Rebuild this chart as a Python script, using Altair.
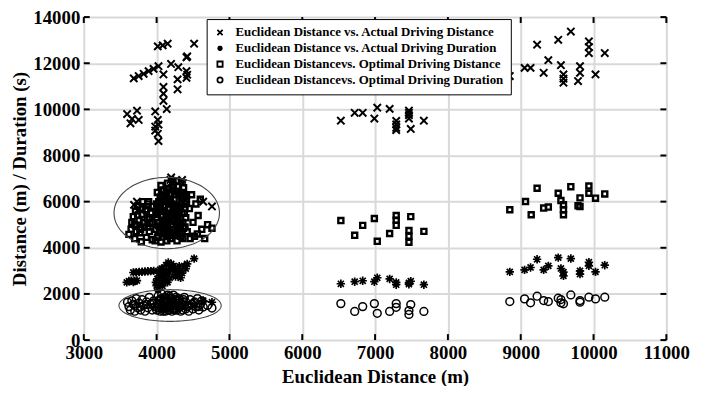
import altair as alt
import pandas as pd
import numpy as np

# ---------------- data ----------------
series_names = [
    "Euclidean Distance vs. Actual Driving Distance",
    "Euclidean Distance vs. Actual Driving Duration",
    "Euclidean Distancevs. Optimal Driving Distance",
    "Euclidean Distancevs. Optimal Driving Duration",
]

# Actual driving distance (x markers)
act_dist_x = [4016, 4084, 4152, 4515, 4410, 3686, 3754, 3822, 3890, 3958, 4026, 4094, 4198, 4298,
              4410, 4410, 4288, 4288, 4094, 4094, 4094, 4139, 3595, 3663, 3731, 3754, 3641, 3981,
              4016, 3981, 3981, 4016, 4026, 4026, 4420, 4420,
              3690, 3730, 3760, 4190, 4350, 4640, 4760, 4200, 4360,
              6530, 6720, 6830, 7030, 6990, 7200, 7290, 7290, 7290, 7290, 7465, 7465, 7465, 7465, 7490, 7670,
              8850, 9053, 9135, 9225, 9315, 9379, 9515, 9552, 9587, 9587, 9587, 9688, 9814, 9814, 9787,
              9936, 9936, 9936, 10027, 10154]
act_dist_y = [12730, 12773, 12845, 12845, 12258, 11343, 11442, 11541, 11657, 11755, 11871, 11515, 11970, 11828,
              11657, 11369, 11300, 10871, 10970, 10682, 10369, 10013, 9798, 9584, 9940, 9541, 9395, 9910,
              9541, 9253, 9082, 8940, 8622, 9339, 12300, 11500,
              5860, 6000, 5700, 6940, 6940, 6000, 5790, 7050, 6800,
              9510, 9850, 9850, 10070, 9600, 10020, 9500, 9350, 9200, 9100, 9950, 9850, 9750, 9600, 9150, 9510,
              11442, 11798, 11798, 12803, 11584, 12129, 13017, 11914, 11515, 11330, 11154, 13373, 11871, 11584, 11227,
              12944, 12700, 12442, 11515, 12442]

# Actual driving duration (asterisks)
act_dur_x = [3590, 3620, 3650, 3680, 3700, 3730,
             3680, 3720, 3760, 3800, 3840, 3880, 3920, 3960,
             3990, 4000, 4010, 4020, 4040, 4060, 4070, 4080, 4100, 4120, 4130, 4150, 4160, 4180, 4190, 4200,
             4230, 4250, 4280, 4300, 4330, 4350, 4380, 4400, 4420, 4515, 4640, 4760,
             4050, 4110, 4170, 4220, 4260, 4310, 4030, 4090, 4140,
             6530, 6720, 6830, 6990, 7030, 7200, 7290, 7290, 7465, 7465, 7490, 7670,
             8850, 9053, 9135, 9225, 9315, 9379, 9515, 9552, 9587, 9587, 9688, 9814, 9814, 9936, 9936, 10027, 10154]
act_dur_y = [2500, 2560, 2570, 2520, 2560, 2580,
             2930, 2940, 2950, 2960, 2970, 2980, 2990, 3000,
             2500, 2360, 2650, 2200, 2450, 2800, 3100, 2350, 2600, 2950, 3250, 2500, 3360, 2700, 3100, 3300,
             3210, 3000, 2850, 3000, 2700, 2900, 3210, 3100, 3300, 3530, 1710, 1640,
             3050, 2800, 2950, 3150, 2750, 3200, 2900, 3000, 2650,
             2440, 2530, 2570, 2530, 2700, 2650, 2400, 2500, 2480, 2420, 2550, 2400,
             2957, 3043, 3146, 3502, 3043, 3215, 3575, 3103, 2944, 2785, 3532, 3000, 2858, 3373, 3215, 2957, 3245]

# Optimal driving distance (squares)
opt_dist_x = [3620, 3650, 3660, 3680, 3700, 3710, 3720, 3740, 3760, 3770, 3790, 3800, 3810, 3830, 3850,
              3860, 3870, 3880, 3890, 3900, 3910, 3920, 3940, 3950,
              3980, 3990, 4000, 4000, 4010, 4020, 4030, 4040, 4050, 4060, 4060, 4070, 4080, 4090, 4100,
              4100, 4110, 4120, 4130, 4140, 4150, 4150, 4160, 4170, 4180, 4190, 4200, 4200, 4210, 4220,
              4230, 4240, 4250, 4260, 4270, 4280, 4290, 4300, 4310, 4320, 4330, 4340, 4350, 4360, 4370,
              4380, 4390, 4400, 4410, 4420,
              4020, 4060, 4100, 4140, 4180, 4220, 4260, 4300, 4340, 4380, 4040, 4080, 4120, 4160, 4200,
              4240, 4280, 4320, 4360, 4400, 4030, 4110, 4190, 4270, 4350, 4070, 4150, 4230, 4310, 4390,
              4010, 4050, 4090, 4130, 4170, 4210, 4250, 4290, 4330, 4370, 4010, 4050, 4090, 4130, 4170,
              4210, 4250, 4290, 4330, 4370, 4025, 4075, 4125, 4175, 4225, 4275, 4325, 4375, 4125, 4225,
              3700, 3740, 3780, 3820, 3860, 3900, 3940, 3720, 3800, 3880,
              4450, 4460, 4480, 4500, 4520, 4540, 4560, 4570, 4600, 4620, 4660, 4700, 4760,
              6530, 6720, 6830, 6990, 7030, 7200, 7290, 7290, 7290, 7490, 7465, 7465, 7465, 7670,
              8850, 9066, 9144, 9225, 9315, 9379, 9515, 9552, 9587, 9587, 9587, 9688, 9814, 9814, 9787,
              9936, 9936, 10027, 10154]
opt_dist_y = [4580, 4800, 5100, 5350, 4400, 5600, 4950, 5800, 5200, 4650, 4260, 5450, 6000, 4900, 5650,
              4450, 5250, 5900, 6000, 4700, 5050, 5500, 4350, 5800,
              4300, 4800, 5300, 5900, 6400, 4500, 5100, 5600, 6200, 4250, 6700, 4900, 5400, 5800, 6500,
              4600, 5000, 6000, 5500, 4300, 6800, 5200, 4700, 5700, 6300, 4400, 5900, 5000, 6600, 4550,
              5400, 6100, 4800, 5600, 6900, 4300, 5200, 6400, 5800, 4600, 5000, 6200, 5500, 4400, 6600,
              5900, 4900, 5300, 6000, 4700,
              5700, 6100, 5600, 6400, 5300, 5000, 6300, 5600, 5900, 5500, 4700, 5200, 4900, 6100, 5400,
              5800, 5100, 5300, 5100, 6300, 6000, 5800, 6000, 4600, 6400, 6500, 4500, 6700, 4900, 5700,
              4450, 4650, 4750, 4850, 4550, 4650, 4550, 4750, 4500, 4850, 5450, 5750, 6050, 6250, 6550,
              5450, 5150, 6650, 5700, 6150, 4950, 5350, 5150, 5350, 5750, 6450, 6350, 6250, 6100, 6850,
              5000, 5400, 4800, 5100, 5600, 5300, 5100, 4700, 5700, 4900,
              5700, 4400, 6300, 5100, 4500, 5900, 4600, 5400, 6100, 4800, 4400, 5000, 4850,
              5180, 4540, 4970, 5270, 4280, 4620, 5400, 5200, 4970, 5350, 4750, 4500, 4240, 4710,
              5648, 6004, 5433, 6579, 5721, 5764, 6365, 6047, 5863, 5650, 5433, 6648, 6163, 5790, 5820,
              6678, 6365, 6150, 6335]

# Optimal driving duration (circles)
opt_dur_x = [3600, 3620, 3640, 3660, 3680, 3700, 3720, 3740, 3760, 3780, 3800, 3820, 3840, 3860, 3880,
             3900, 3920, 3940, 3960, 3980,
             4000, 4010, 4020, 4030, 4040, 4050, 4060, 4070, 4080, 4090, 4100, 4110, 4120, 4130, 4140,
             4150, 4160, 4170, 4180, 4190, 4200, 4210, 4220, 4230, 4240, 4250, 4260, 4270, 4280, 4290,
             4300, 4320, 4340, 4360, 4380, 4400, 4420, 4440, 4460, 4480, 4500, 4520, 4540, 4560, 4580,
             4600, 4640, 4700, 4760, 4620,
             4020, 4060, 4100, 4140, 4180, 4220, 4260, 4300, 4340, 4380, 4040, 4080, 4120, 4160, 4200,
             4240, 4280, 4320, 4360, 4400,
             4010, 4050, 4090, 4130, 4170, 4210, 4250, 4290, 4330, 4370, 4030, 4110, 4190, 4270, 4350,
             3700, 3780, 3860, 3940, 4450, 4510, 4570,
             6530, 6720, 6830, 6990, 7030, 7200, 7290, 7290, 7490, 7465, 7465, 7670,
             8850, 9053, 9135, 9225, 9315, 9379, 9515, 9552, 9552, 9587, 9688, 9814, 9814, 9936, 10027, 10154]
opt_dur_y = [1640, 1450, 1300, 1700, 1550, 1250, 1800, 1400, 1600, 1300, 1750, 1500, 1250, 1650, 1400,
             1850, 1550, 1300, 1700, 1450,
             1300, 1600, 1900, 1400, 1750, 1250, 1550, 2000, 1350, 1700, 1500, 1850, 1250, 1600, 1400,
             1950, 1700, 1300, 1550, 1800, 1450, 1250, 1650, 1950, 1350, 1750, 1500, 1850, 1300, 1600,
             1400, 1750, 1550, 1300, 1850, 1650, 1450, 1250, 1750, 1550, 1350, 1650, 1450, 1800, 1300,
             1550, 1430, 1500, 1390, 1700,
             1500, 1800, 1400, 1650, 1900, 1350, 1600, 1800, 1550, 1500, 1700, 1450, 1750, 1300, 1650,
             1550, 1700, 1450, 1650, 1350,
             1400, 1700, 1250, 1850, 1450, 1600, 1300, 1700, 1250, 1750, 1550, 1350, 1650, 1400, 1500,
             1500, 1450, 1550, 1600, 1500, 1600, 1450,
             1580, 1240, 1450, 1580, 1160, 1240, 1580, 1420, 1540, 1280, 1110, 1240,
             1670, 1785, 1614, 1900, 1712, 1670, 1815, 1756, 1614, 1571, 1957, 1712, 1643, 1858, 1785, 1858]

# ellipse annotations: centre x, centre y, radius x, radius y
ellipse_cx = [4139, 4185]
ellipse_cy = [5506, 1498]
ellipse_rx = [724, 702]
ellipse_ry = [1545, 687]

x_ticks = [3000, 4000, 5000, 6000, 7000, 8000, 9000, 10000, 11000]
y_ticks = [0, 2000, 4000, 6000, 8000, 10000, 12000, 14000]

# ---------------- tables ----------------
series_x = [act_dist_x, act_dur_x, opt_dist_x, opt_dur_x]
series_y = [act_dist_y, act_dur_y, opt_dist_y, opt_dur_y]

theta = np.linspace(0, 2 * np.pi, 121)
ell_rows = []
for k in range(len(ellipse_cx)):
    for i, t in enumerate(theta):
        ell_rows.append({"id": k, "i": i,
                         "x": ellipse_cx[k] + ellipse_rx[k] * np.cos(t),
                         "y": ellipse_cy[k] + ellipse_ry[k] * np.sin(t)})
ell = pd.DataFrame(ell_rows)

W, H = 588, 326
FONT = "Liberation Serif"

xscale = alt.Scale(domain=[3000, 11000], nice=False, zero=False)
yscale = alt.Scale(domain=[0, 14000], nice=False, zero=False)

xaxis = alt.Axis(values=x_ticks, format="d", title="Euclidean Distance (m)", grid=True,
                 gridColor="#d9d9d9", gridWidth=2, domain=False, ticks=False,
                 labelFont=FONT, labelFontWeight="bold", labelFontSize=19, labelColor="black",
                 labelPadding=4, titleFont=FONT, titleFontWeight="bold", titleFontSize=19,
                 titleColor="black", titlePadding=5, labelFlush=False)
yaxis = alt.Axis(values=y_ticks, format="d", title="Distance (m) / Duration (s)", grid=True,
                 gridColor="#d9d9d9", gridWidth=2, domain=False, ticks=False,
                 labelFont=FONT, labelFontWeight="bold", labelFontSize=19, labelColor="black",
                 labelPadding=4, titleFont=FONT, titleFontWeight="bold", titleFontSize=19,
                 titleColor="black", titlePadding=3, labelFlush=False)

shape_x = "M-1,-1L1,1M-1,1L1,-1"
shape_star = "M0,-1L0,1M-1,0L1,0M-0.72,-0.72L0.72,0.72M-0.72,0.72L0.72,-0.72"
shape_range = [shape_x, shape_star, "square", "circle"]
sizes = [55, 72, 26, 62]
widths = [2.0, 1.7, 2.4, 1.5]

legend = alt.Legend(title=None, orient="none", legendX=124, legendY=2,
                    strokeColor="black", fillColor="white", padding=7,
                    labelFont=FONT, labelFontWeight="bold", labelFontSize=13,
                    labelColor="black", symbolSize=28, symbolStrokeWidth=1.8,
                    symbolStrokeColor="black", symbolFillColor="white", rowPadding=2,
                    labelOffset=9, labelLimit=400)

point_layers = []
for k, name in enumerate(series_names):
    df = pd.DataFrame({"x": series_x[k], "y": series_y[k], "series": name})
    point_layers.append(
        alt.Chart(df).mark_point(filled=False, opacity=1, color="black",
                                 size=sizes[k], strokeWidth=widths[k]).encode(
            x=alt.X("x:Q", scale=xscale, axis=xaxis),
            y=alt.Y("y:Q", scale=yscale, axis=yaxis),
            shape=alt.Shape("series:N", scale=alt.Scale(domain=series_names, range=shape_range),
                            legend=legend),
        )
    )

ellipses = alt.Chart(ell).mark_line(color="#444444", strokeWidth=1.1).encode(
    x=alt.X("x:Q", scale=xscale),
    y=alt.Y("y:Q", scale=yscale),
    detail="id:N",
    order="i:Q",
)

xt = pd.DataFrame({"v": x_ticks})
yt = pd.DataFrame({"v": y_ticks})
TL = 6
bottom_ticks = alt.Chart(xt).mark_rule(color="black", strokeWidth=2).encode(
    x=alt.X("v:Q", scale=xscale), y=alt.value(H), y2=alt.value(H - TL))
top_ticks = alt.Chart(xt).mark_rule(color="black", strokeWidth=2).encode(
    x=alt.X("v:Q", scale=xscale), y=alt.value(0), y2=alt.value(TL))
left_ticks = alt.Chart(yt).mark_rule(color="black", strokeWidth=2).encode(
    y=alt.Y("v:Q", scale=yscale), x=alt.value(0), x2=alt.value(TL))
right_ticks = alt.Chart(yt).mark_rule(color="black", strokeWidth=2).encode(
    y=alt.Y("v:Q", scale=yscale), x=alt.value(W), x2=alt.value(W - TL))

chart = alt.layer(bottom_ticks, top_ticks, left_ticks, right_ticks, *point_layers, ellipses).properties(
    width=W, height=H,
    autosize=alt.AutoSizeParams(type="none"),
    padding={"left": 76.5, "top": 7.4, "right": 40, "bottom": 45},
).configure_view(stroke="black", strokeWidth=2).configure(background="white")

chart.save("out.html", embed_options={"renderer": "svg", "actions": False})
